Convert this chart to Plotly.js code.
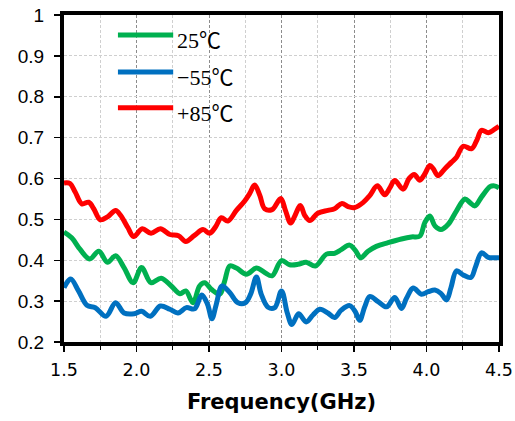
<!DOCTYPE html>
<html>
<head>
<meta charset="utf-8">
<script src="https://cdn.plot.ly/plotly-3.0.1.min.js"></script>
<style>html,body{margin:0;padding:0;background:#fff;}#chart{width:515px;height:421px;}</style>
</head>
<body>
<div id="chart"></div>
<script>
// Series names and colours
const seriesNames = ["25", "\u221255", "+85"];
const unitLabel = "\u2103";
const seriesColors = ["#00B050", "#0070C0", "#FF0000"];

// +85 °C (red)
const freqRed = [1.5, 1.54, 1.577, 1.623, 1.67, 1.705, 1.75, 1.80, 1.856, 1.89, 1.94, 1.98, 2.04, 2.10, 2.165, 2.23, 2.29, 2.34, 2.40, 2.459, 2.505, 2.544, 2.585, 2.63, 2.689, 2.746, 2.78, 2.815, 2.85, 2.884, 2.935, 2.995, 3.027, 3.063, 3.09, 3.13, 3.16, 3.195, 3.25, 3.32, 3.366, 3.417, 3.459, 3.505, 3.562, 3.608, 3.661, 3.712, 3.747, 3.781, 3.839, 3.878, 3.915, 3.954, 3.988, 4.023, 4.046, 4.08, 4.127, 4.173, 4.207, 4.253, 4.311, 4.346, 4.38, 4.426, 4.468, 4.5];
const valRed = [0.589, 0.588, 0.567, 0.538, 0.542, 0.526, 0.499, 0.506, 0.522, 0.51, 0.48, 0.458, 0.477, 0.466, 0.477, 0.463, 0.46, 0.446, 0.461, 0.475, 0.466, 0.481, 0.504, 0.496, 0.522, 0.545, 0.563, 0.584, 0.559, 0.526, 0.524, 0.551, 0.522, 0.491, 0.507, 0.534, 0.51, 0.497, 0.515, 0.522, 0.526, 0.539, 0.531, 0.529, 0.541, 0.558, 0.582, 0.56, 0.577, 0.595, 0.574, 0.599, 0.61, 0.596, 0.611, 0.632, 0.624, 0.607, 0.624, 0.64, 0.652, 0.679, 0.673, 0.693, 0.718, 0.712, 0.72, 0.728];

// 25 °C (green)
const freqGreen = [1.5, 1.553, 1.61, 1.677, 1.74, 1.80, 1.856, 1.914, 1.977, 2.035, 2.10, 2.17, 2.24, 2.30, 2.34, 2.39, 2.435, 2.47, 2.516, 2.574, 2.608, 2.643, 2.689, 2.758, 2.827, 2.884, 2.935, 3.0, 3.056, 3.114, 3.17, 3.234, 3.31, 3.366, 3.412, 3.47, 3.509, 3.546, 3.597, 3.654, 3.735, 3.827, 3.896, 3.954, 3.988, 4.023, 4.058, 4.099, 4.15, 4.207, 4.265, 4.30, 4.334, 4.38, 4.438, 4.468, 4.5];
const valGreen = [0.469, 0.455, 0.427, 0.403, 0.422, 0.395, 0.411, 0.382, 0.345, 0.382, 0.345, 0.356, 0.337, 0.318, 0.325, 0.296, 0.337, 0.345, 0.329, 0.317, 0.349, 0.386, 0.381, 0.366, 0.381, 0.37, 0.362, 0.399, 0.389, 0.39, 0.395, 0.386, 0.415, 0.417, 0.426, 0.437, 0.424, 0.406, 0.422, 0.434, 0.443, 0.452, 0.457, 0.459, 0.492, 0.508, 0.484, 0.475, 0.488, 0.521, 0.55, 0.541, 0.533, 0.555, 0.58, 0.582, 0.577];

// -55 °C (blue)
const freqBlue = [1.5, 1.546, 1.60, 1.658, 1.716, 1.79, 1.856, 1.914, 1.984, 2.035, 2.095, 2.165, 2.23, 2.286, 2.344, 2.40, 2.45, 2.49, 2.52, 2.55, 2.59, 2.643, 2.70, 2.75, 2.787, 2.827, 2.86, 2.907, 2.953, 3.0, 3.04, 3.072, 3.118, 3.17, 3.217, 3.264, 3.32, 3.366, 3.412, 3.47, 3.509, 3.539, 3.574, 3.608, 3.666, 3.724, 3.781, 3.827, 3.862, 3.908, 3.965, 4.012, 4.058, 4.099, 4.138, 4.168, 4.207, 4.253, 4.306, 4.339, 4.38, 4.426, 4.468, 4.5];
const valBlue = [0.333, 0.354, 0.325, 0.29, 0.284, 0.263, 0.296, 0.271, 0.269, 0.275, 0.263, 0.288, 0.28, 0.271, 0.284, 0.281, 0.315, 0.292, 0.257, 0.292, 0.337, 0.321, 0.296, 0.296, 0.317, 0.359, 0.317, 0.285, 0.284, 0.325, 0.271, 0.243, 0.269, 0.249, 0.266, 0.28, 0.271, 0.26, 0.278, 0.289, 0.274, 0.253, 0.286, 0.311, 0.299, 0.286, 0.309, 0.282, 0.307, 0.332, 0.317, 0.323, 0.327, 0.319, 0.303, 0.332, 0.374, 0.364, 0.358, 0.385, 0.418, 0.407, 0.406, 0.406];

// Axis ticks
const xTickVals = [1.5, 2.0, 2.5, 3.0, 3.5, 4.0, 4.5];
const xTickText = ["1.5", "2.0", "2.5", "3.0", "3.5", "4.0", "4.5"];
const yTickVals = [0.2, 0.3, 0.4, 0.5, 0.6, 0.7, 0.8, 0.9, 1];
const yTickText = ["0.2", "0.3", "0.4", "0.5", "0.6", "0.7", "0.8", "0.9", "1"];

const xs = [freqGreen, freqBlue, freqRed];
const ys = [valGreen, valBlue, valRed];

const traces = xs.map((x, i) => ({
  x: x, y: ys[i], name: seriesNames[i] + unitLabel, type: "scatter", mode: "lines",
  line: {color: seriesColors[i], width: 5, shape: "spline", smoothing: 1},
  showlegend: false, hoverinfo: "skip"
}));
const ordered = [traces[2], traces[0], traces[1]];

// custom legend (paper coords)
const legY = [0.939, 0.826, 0.716];
const shapes = [];
const annotations = [];
seriesNames.forEach((n, i) => {
  shapes.push({type: "line", xref: "paper", yref: "paper", x0: 0.124, x1: 0.251, y0: legY[i], y1: legY[i],
    line: {color: seriesColors[i], width: 5}, layer: "above"});
  annotations.push({xref: "paper", yref: "paper", x: 0.256, y: legY[i], xanchor: "left", yanchor: "middle",
    yshift: -3, showarrow: false,
    text: n + '<span style="font-family:\'Noto Sans CJK JP\'">' + unitLabel + '</span>',
    font: {family: "Liberation Serif, Times New Roman, serif", size: 22, color: "#000"}});
});

const layout = {
  width: 515, height: 421,
  margin: {l: 64, r: 16, t: 15, b: 79},
  paper_bgcolor: "#fff", plot_bgcolor: "#fff",
  showlegend: false,
  xaxis: {
    range: [1.5, 4.5], tickvals: xTickVals, ticktext: xTickText,
    showline: true, linecolor: "#000", linewidth: 4, mirror: true,
    ticks: "outside", ticklen: 6, tickwidth: 1.5, tickcolor: "#000",
    showgrid: true, gridcolor: "#8c8c8c", griddash: "3px,2px", gridwidth: 1,
    minor: {dtick: 0.25, tick0: 1.5, ticks: "outside", ticklen: 4, tickwidth: 1.2, tickcolor: "#000",
            showgrid: true, gridcolor: "#cfcfcf", griddash: "3px,2px", gridwidth: 1},
    zeroline: false, ticklabelstandoff: 3,
    tickfont: {family: "DejaVu Sans, Verdana, sans-serif", size: 17.5, color: "#000"},
    title: {text: "<b>Frequency(GHz)</b>", standoff: 16,
            font: {family: "DejaVu Sans, Verdana, sans-serif", size: 21, color: "#000"}}
  },
  yaxis: {
    range: [0.2, 1], tickvals: yTickVals, ticktext: yTickText,
    showline: true, linecolor: "#000", linewidth: 4, mirror: true,
    ticks: "outside", ticklen: 6, tickwidth: 1.5, tickcolor: "#000",
    showgrid: true, gridcolor: "#cfcfcf", griddash: "3px,2px", gridwidth: 1,
    zeroline: false, ticklabelstandoff: 6,
    tickfont: {family: "Liberation Sans, Arial, sans-serif", size: 19, color: "#000"}
  },
  shapes: shapes,
  annotations: annotations
};

Plotly.newPlot("chart", ordered, layout, {staticPlot: true, displayModeBar: false});
</script>
</body>
</html>
